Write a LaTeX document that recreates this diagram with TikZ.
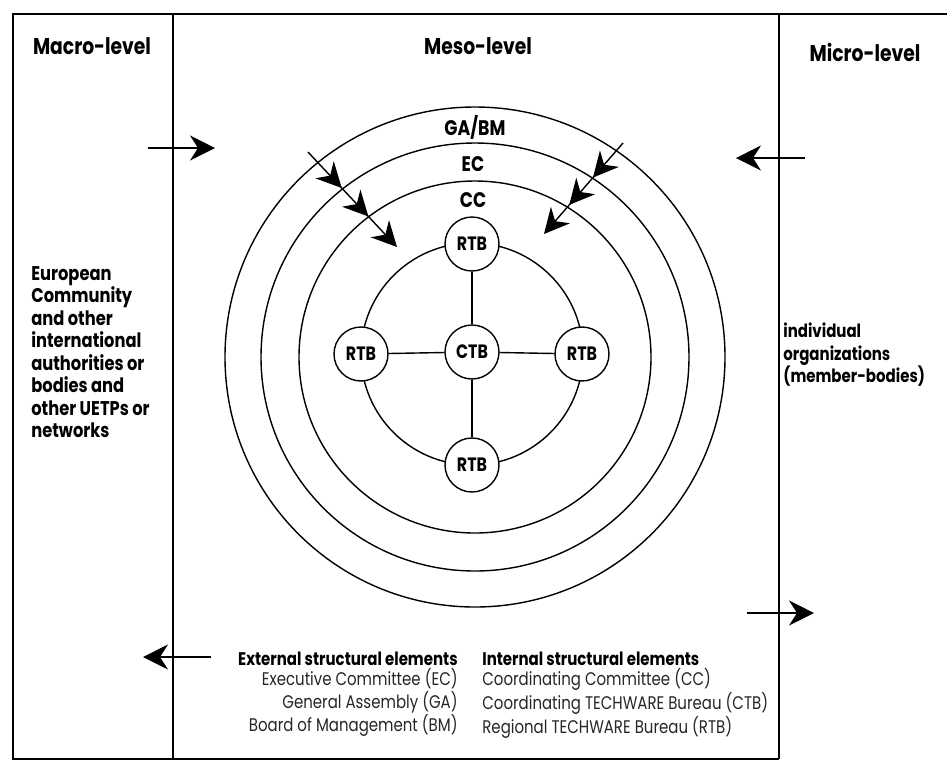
\documentclass[tikz,border=0pt]{standalone}
\usepackage{fontspec}
\setmainfont{Poppins}[FakeStretch=0.82]
\usepackage{tikz}
\usetikzlibrary{arrows.meta}
\usetikzlibrary{decorations.markings}

\tikzset{
  frame/.style={line width=0.8pt},
  ring/.style={line width=0.8pt},
  bureau/.style={draw,circle,fill=white,line width=0.8pt,inner sep=0,minimum size=1.08cm,font=\bfseries\fontsize{11}{12}\selectfont},
  level/.style={font=\bfseries\fontsize{13}{15}\selectfont},
  ringlabel/.style={font=\bfseries\fontsize{12}{14}\selectfont},
  sidetext/.style={align=left,inner sep=0,font=\bfseries\fontsize{11.3}{12.8}\selectfont},
  legend/.style={inner sep=0,font=\fontsize{10.4}{11.4}\selectfont,text=black!85},
  bigtip/.style={-{Stealth[length=5mm,width=5mm,inset=1.6mm]},line width=0.8pt},
  throughtip/.style={bigtip,postaction={decorate},
    decoration={markings,
      mark=at position 0.38 with {\arrow{Stealth[length=5mm,width=5mm,inset=1.6mm]}},
      mark=at position 0.68 with {\arrow{Stealth[length=5mm,width=5mm,inset=1.6mm]}}}}
}

\begin{document}
\begin{tikzpicture}[x=0.02cm,y=-0.02cm]
\useasboundingbox (0,0) rectangle (947,762);

%frame and columns
\draw [frame] (947,14) -- (13,14) -- (13,759) -- (779,759);
\draw [frame] (173,14) -- (173,759);
\draw [frame] (779,14) -- (779,759);

%levels
\node (macro) at (92,46) [level] {Macro-level};
\node (meso) at (478,46) [level] {Meso-level};
\node (micro) at (865,52) [level] {Micro-level};

%rings
\foreach \r in {250,214,176}{
  \draw [ring] (475,357) circle (\r);
}
\draw [ring] (472,354) circle (111);
\node (gabm) at (475,127) [ringlabel] {GA/BM};
\node (ec) at (473,164) [ringlabel] {EC};
\node (cc) at (473,200) [ringlabel] {CC};

%bureaus
\node (ctb) at (472,352) [bureau] {CTB};
\node (rtbn) at (472,244) [bureau] {RTB};
\node (rtbs) at (472,465) [bureau] {RTB};
\node (rtbw) at (361,354) [bureau] {RTB};
\node (rtbe) at (582,354) [bureau] {RTB};
\foreach \b in {rtbn,rtbs,rtbw,rtbe}{
  \draw [ring] (ctb) -- (\b);
}

%arrows across the columns
\coordinate (macroout) at (148,148);
\coordinate (macroin) at (215,148);
\draw [bigtip] (macroout) -- (macroin);
\coordinate (microout) at (805,158);
\coordinate (microin) at (736,158);
\draw [bigtip] (microout) -- (microin);
\coordinate (mesowest) at (211,657);
\coordinate (macroback) at (143,657);
\draw [bigtip] (mesowest) -- (macroback);
\coordinate (mesoeast) at (747,613);
\coordinate (microback) at (814,613);
\draw [bigtip] (mesoeast) -- (microback);

%arrows through the rings
\coordinate (nwstart) at (308,152);
\coordinate (nwend) at (397,247);
\draw [throughtip] (nwstart) -- (nwend);
\coordinate (nestart) at (623,143);
\coordinate (neend) at (544,234);
\draw [throughtip] (nestart) -- (neend);

%side texts
\node (macrotext) at (31,266) [sidetext,anchor=north west] {European\\Community\\and other\\international\\authorities or\\bodies and\\other UETPs or\\networks};
\node (microtext) at (783,323) [sidetext,anchor=north west,font=\bfseries\fontsize{10.4}{12.8}\selectfont] {individual\\organizations\\(member-bodies)};

%legend
\node (external) at (458,652) [legend,anchor=north east,align=right] {{\bfseries\color{black}External structural elements}\\Executive Committee (EC)\\General Assembly (GA)\\Board of Management (BM)};
\node (internal) at (482,652) [legend,anchor=north west,align=left] {{\bfseries\color{black}Internal structural elements}\\Coordinating Committee (CC)\\Coordinating TECHWARE Bureau (CTB)\\Regional TECHWARE Bureau (RTB)};

\end{tikzpicture}
\end{document}
